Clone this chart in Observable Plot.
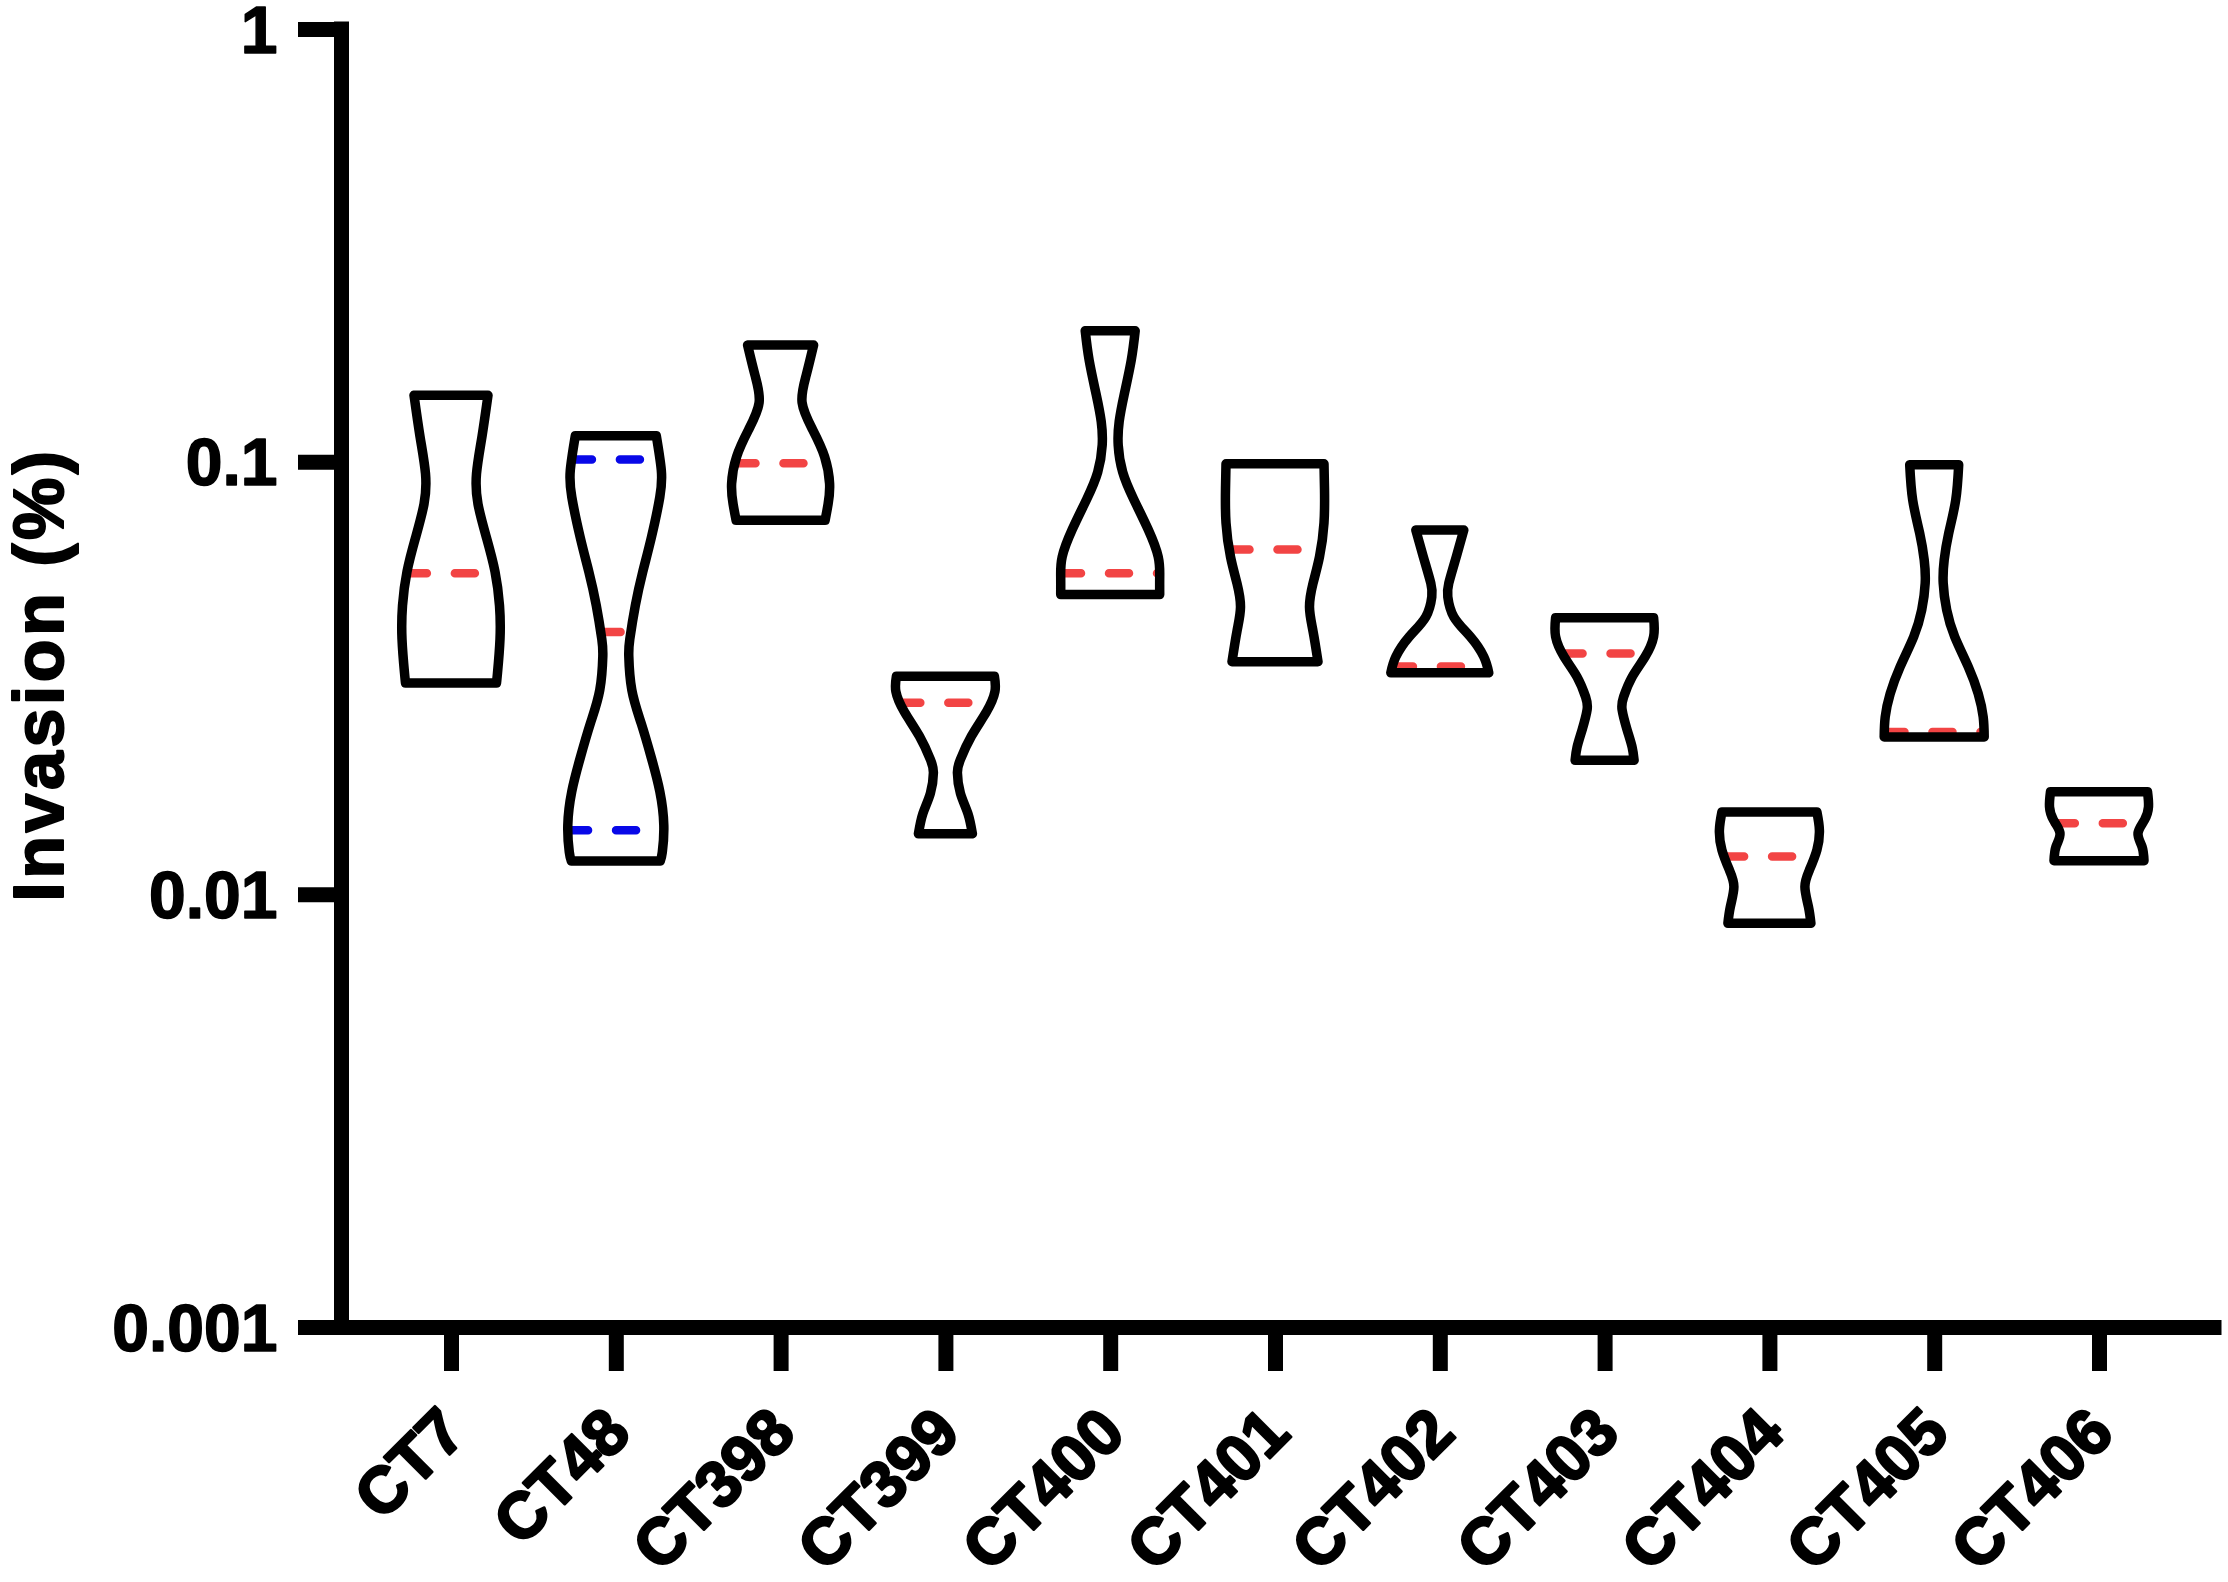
<!DOCTYPE html>
<html>
<head>
<meta charset="utf-8">
<script src="https://cdn.jsdelivr.net/npm/d3@7"></script>
<script src="https://cdn.jsdelivr.net/npm/@observablehq/plot@0.6"></script>
<style>
  html, body { margin: 0; padding: 0; background: #ffffff; }
  #chart svg { display: block; }
</style>
</head>
<body>
<div id="chart"></div>
<script>
// ---- Data ----
const categories = ["CT7", "CT48", "CT398", "CT399", "CT400", "CT401", "CT402", "CT403", "CT404", "CT405", "CT406"];
const medians = [0.0554, 0.0405, 0.0994, 0.0278, 0.0554, 0.0628, 0.0337, 0.0361, 0.01227, 0.0238, 0.01464];
const ct48Quartiles = [0.0141, 0.1014];
const yTicks = [1, 0.1, 0.01, 0.001];
const yTickLabels = ["1", "0.1", "0.01", "0.001"];
const yTitle = "Invasion (%)";

// violin profiles: [value, relative density] from max (top) to min (bottom)
const ct7 = [[0.1424, 0.74], [0.1144, 0.62], [0.0938, 0.51], [0.0798, 0.54], [0.0667, 0.71], [0.0557, 0.88], [0.0465, 0.97], [0.0389, 0.98], [0.0325, 0.93], [0.0308, 0.91]];
const ct48 = [[0.1148, 0.81], [0.0956, 0.91], [0.0828, 0.88], [0.0667, 0.71], [0.0557, 0.54], [0.0465, 0.39], [0.0389, 0.28], [0.0355, 0.26], [0.0297, 0.32], [0.0248, 0.51], [0.0207, 0.71], [0.0173, 0.88], [0.01445, 0.96], [0.01252, 0.93], [0.01194, 0.89]];
const ct398 = [[0.1860, 0.66], [0.1581, 0.51], [0.1369, 0.43], [0.1186, 0.64], [0.1027, 0.88], [0.0889, 0.98], [0.0798, 0.95], [0.0732, 0.89]];
const ct399 = [[0.0319, 0.98], [0.0294, 0.99], [0.0264, 0.82], [0.0232, 0.52], [0.0205, 0.30], [0.0191, 0.24], [0.01713, 0.30], [0.01538, 0.45], [0.0138, 0.54]];
const ct400 = [[0.2007, 0.50], [0.1713, 0.42], [0.1430, 0.28], [0.1239, 0.18], [0.1092, 0.16], [0.0946, 0.25], [0.0819, 0.47], [0.0697, 0.76], [0.0603, 0.96], [0.0542, 0.99], [0.0493, 0.99]];
const ct401 = [[0.0989, 0.98], [0.0865, 0.99], [0.0722, 0.98], [0.0603, 0.89], [0.0523, 0.76], [0.0461, 0.69], [0.0406, 0.76], [0.0345, 0.86]];
const ct402 = [[0.0695, 0.48], [0.0603, 0.33], [0.0524, 0.18], [0.0487, 0.16], [0.0438, 0.28], [0.0394, 0.61], [0.0354, 0.88], [0.0325, 0.98]];
const ct403 = [[0.0436, 0.98], [0.0394, 0.98], [0.0354, 0.81], [0.0318, 0.55], [0.0286, 0.38], [0.0267, 0.35], [0.0240, 0.45], [0.0219, 0.55], [0.0204, 0.59]];
const ct404 = [[0.0155, 0.95], [0.01408, 1.0], [0.01266, 0.95], [0.01138, 0.80], [0.01041, 0.71], [0.00937, 0.78], [0.00857, 0.83]];
const ct405 = [[0.0984, 0.49], [0.0815, 0.43], [0.0683, 0.29], [0.0593, 0.20], [0.0524, 0.18], [0.0454, 0.25], [0.0394, 0.41], [0.0336, 0.68], [0.0291, 0.88], [0.0257, 0.98], [0.0231, 1.0]];
const ct406 = [[0.01727, 0.97], [0.01594, 0.99], [0.01485, 0.91], [0.01384, 0.78], [0.01289, 0.86], [0.01196, 0.90]];
const profiles = [ct7, ct48, ct398, ct399, ct400, ct401, ct402, ct403, ct404, ct405, ct406];

// ---- Derived tables ----
const W = 50 / 164.8; // maximum half-width of a violin, in category steps
const rows = profiles.flatMap((p, i) => p.map(([v, d]) => ({i, v, d})));

function densityAt(p, v) {
  for (let k = 0; k < p.length - 1; k++) {
    const [va, da] = p[k], [vb, db] = p[k + 1];
    if (v <= va && v >= vb) {
      const t = (Math.log10(va) - Math.log10(v)) / (Math.log10(va) - Math.log10(vb));
      return da + t * (db - da);
    }
  }
  return p[p.length - 1][1];
}
const medianRows = medians.map((v, i) => { const d = densityAt(profiles[i], v); return {i, v, x1: i - d * W, x2: i + d * W}; });
const quartRows = ct48Quartiles.map(v => { const d = densityAt(ct48, v); return {i: 1, v, x1: 1 - d * W, x2: 1 + d * W}; });
const xIdx = categories.map((_, i) => i);
const xDomain = [-0.6675, 10.6978];

const FONT = "'Liberation Sans', Arial, Helvetica, sans-serif";
const RED = "#f24444";
const BLUE = "#0808e8";

const chart = Plot.plot({
  width: 2228,
  height: 1582,
  marginLeft: 341,
  marginRight: 14,
  marginTop: 29,
  marginBottom: 255,
  x: {domain: xDomain, axis: null},
  y: {type: "log", domain: [0.001, 1], axis: null},
  style: {fontFamily: FONT, background: "#ffffff", color: "black", overflow: "visible"},
  marks: [
    Plot.ruleY(medianRows, {y: "v", x1: "x1", x2: "x2", stroke: RED, strokeWidth: 8.5, strokeDasharray: "20,28", strokeLinecap: "round"}),
    Plot.ruleY(quartRows, {y: "v", x1: "x1", x2: "x2", stroke: BLUE, strokeWidth: 8.5, strokeDasharray: "20,28", strokeLinecap: "round"}),
    Plot.areaX(rows, {
      y: "v",
      x1: d => d.i - d.d * W,
      x2: d => d.i + d.d * W,
      z: "i",
      curve: "natural",
      fill: "none",
      stroke: "black",
      strokeWidth: 9.5,
      strokeLinejoin: "round"
    }),
    // y ticks
    Plot.ruleY(yTicks, {y: d => d, x1: () => xDomain[0], x2: () => xDomain[0], insetLeft: -43, stroke: "black", strokeWidth: 15}),
    // x ticks
    Plot.ruleX(xIdx, {x: d => d, y1: () => 0.001, y2: () => 0.001, insetBottom: -44, stroke: "black", strokeWidth: 15}),
    // axis lines
    Plot.ruleX([xDomain[0]], {x: d => d, y1: () => 0.001, y2: () => 1, stroke: "black", strokeWidth: 15, strokeLinecap: "square"}),
    Plot.ruleY([0.001], {y: d => d, x1: () => xDomain[0], x2: () => xDomain[1], stroke: "black", strokeWidth: 15, strokeLinecap: "square"}),
    // y tick labels
    Plot.text(yTicks, {x: () => xDomain[0], y: d => d, text: (d, i) => yTickLabels[i], dx: -64, dy: 2, textAnchor: "end", fontSize: 66, fontWeight: "bold", fill: "black", stroke: "black", strokeWidth: 1.5}),
    // x tick labels
    Plot.text(categories, {x: (d, i) => i, y: () => 0.001, text: d => d, rotate: -45, textAnchor: "end", dx: 2.3, dy: 93.5, fontSize: 65, fontWeight: "bold", fill: "black", stroke: "black", strokeWidth: 2.5}),
    // y axis title
    Plot.text([yTitle], {frameAnchor: "left", text: d => d, rotate: -90, textAnchor: "middle", dx: -301, dy: -4, fontSize: 70, fontWeight: "bold", fill: "black", stroke: "black", strokeWidth: 2})
  ]
});

d3.select(chart).selectAll("text").filter(function() { return this.textContent === yTitle; }).style("letter-spacing", "3.5px");
document.getElementById("chart").appendChild(chart);
</script>
</body>
</html>
